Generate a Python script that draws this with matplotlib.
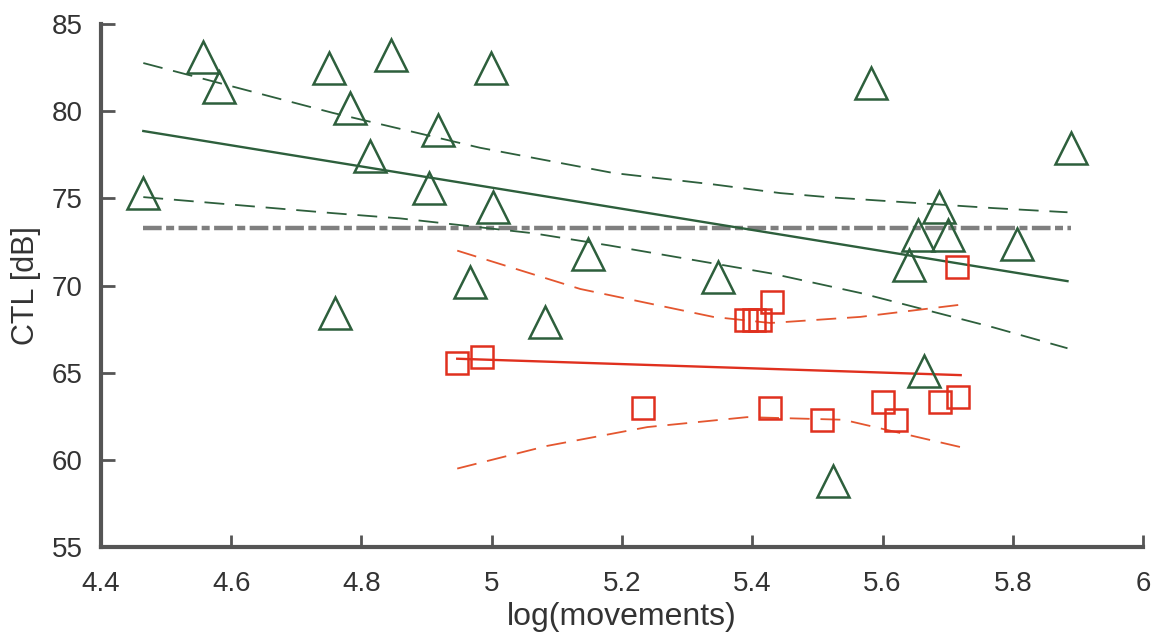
import matplotlib.pyplot as plt

plt.rcParams['font.family'] = ['Liberation Sans', 'DejaVu Sans']

# group A (triangles)
tri_x = [4.465, 4.557, 4.581, 4.750, 4.845, 4.782, 4.813, 4.918, 4.904, 4.999,
         5.002, 4.759, 4.967, 5.082, 5.148, 5.348, 5.583, 5.889, 5.686, 5.655,
         5.701, 5.807, 5.640, 5.664, 5.524]
tri_y = [75.3, 83.1, 81.4, 82.5, 83.2, 80.2, 77.4, 78.9, 75.6, 82.5,
         74.5, 68.4, 70.2, 67.9, 71.8, 70.5, 81.6, 77.9, 74.5, 72.9,
         72.9, 72.4, 71.2, 65.1, 58.8]

# group B (squares)
sq_x = [4.947, 4.985, 5.233, 5.428, 5.391, 5.402, 5.412, 5.431, 5.715,
        5.507, 5.601, 5.620, 5.689, 5.716]
sq_y = [65.55, 65.9, 63.0, 63.0, 68.0, 68.0, 68.0, 69.05, 71.06,
        62.3, 63.3, 62.3, 63.3, 63.6]

# regression lines (end points) and confidence bands
tri_fit_x = [4.465, 5.884]
tri_fit_y = [78.86, 70.25]
tri_hi_x = [4.465, 4.756, 4.982, 5.187, 5.34, 5.443, 5.515, 5.77, 5.884]
tri_hi_y = [82.76, 79.9, 77.9, 76.45, 75.8, 75.3, 75.07, 74.44, 74.2]
tri_lo_x = [4.465, 4.756, 4.859, 5.063, 5.18, 5.428, 5.566, 5.77, 5.884]
tri_lo_y = [75.07, 74.15, 73.85, 73.0, 72.3, 70.7, 69.57, 67.6, 66.4]

sq_fit_x = [4.947, 5.72]
sq_fit_y = [65.8, 64.86]
sq_hi_x = [4.947, 5.136, 5.34, 5.428, 5.566, 5.72]
sq_hi_y = [72.0, 69.8, 68.2, 67.85, 68.2, 68.9]
sq_lo_x = [4.947, 5.085, 5.239, 5.392, 5.54, 5.72]
sq_lo_y = [59.5, 60.8, 61.88, 62.45, 62.3, 60.73]

overall_mean = 73.3

GREEN = '#2d5f3c'
RED = '#e0301e'
RED_BAND = '#e4562f'
GRAY = '#7f7f7f'

fig = plt.figure(figsize=(11.54, 6.41), dpi=100)
ax = fig.add_axes([0.0875, 0.1466, 0.903, 0.816])

ax.plot([min(tri_x), max(tri_x)], [overall_mean, overall_mean], color=GRAY,
        lw=3.2, dashes=(4.2, 1.0, 1.8, 1.0), zorder=2)

ax.plot(tri_fit_x, tri_fit_y, color=GREEN, lw=1.7, zorder=3)
ax.plot(tri_hi_x, tri_hi_y, color=GREEN, lw=1.3, dashes=(11, 6), zorder=3)
ax.plot(tri_lo_x, tri_lo_y, color=GREEN, lw=1.3, dashes=(11, 6), zorder=3)

ax.plot(sq_fit_x, sq_fit_y, color=RED, lw=1.7, zorder=3)
ax.plot(sq_hi_x, sq_hi_y, color=RED_BAND, lw=1.3, dashes=(11, 6), zorder=3)
ax.plot(sq_lo_x, sq_lo_y, color=RED_BAND, lw=1.3, dashes=(11, 6), zorder=3)

ax.plot(tri_x, tri_y, ls='none', marker='^', ms=23, mfc='none',
        mec=GREEN, mew=1.8, zorder=4)
ax.plot(sq_x, sq_y, ls='none', marker='s', ms=16, mfc='none',
        mec=RED, mew=1.8, zorder=4)

ax.set_xlim(4.4, 6.0)
ax.set_ylim(55, 85)
ax.set_xticks([4.4, 4.6, 4.8, 5.0, 5.2, 5.4, 5.6, 5.8, 6.0])
ax.set_xticklabels(['4.4', '4.6', '4.8', '5', '5.2', '5.4', '5.6', '5.8', '6'])
ax.set_yticks([55, 60, 65, 70, 75, 80, 85])

for side in ('top', 'right'):
    ax.spines[side].set_visible(False)
for side in ('left', 'bottom'):
    ax.spines[side].set_linewidth(3)
    ax.spines[side].set_color('#555555')

ax.tick_params(axis='x', direction='in', length=9, width=2, color='#555555',
               labelsize=20, pad=17, labelcolor='#333333')
ax.tick_params(axis='y', direction='in', length=10, width=2, color='#555555',
               labelsize=20, pad=13, labelcolor='#333333')

ax.set_xlabel('log(movements)', fontsize=23, color='#333333', labelpad=4)
ax.set_ylabel('CTL [dB]', fontsize=22, color='#333333', labelpad=8)

fig.savefig('out.png', dpi=100)
